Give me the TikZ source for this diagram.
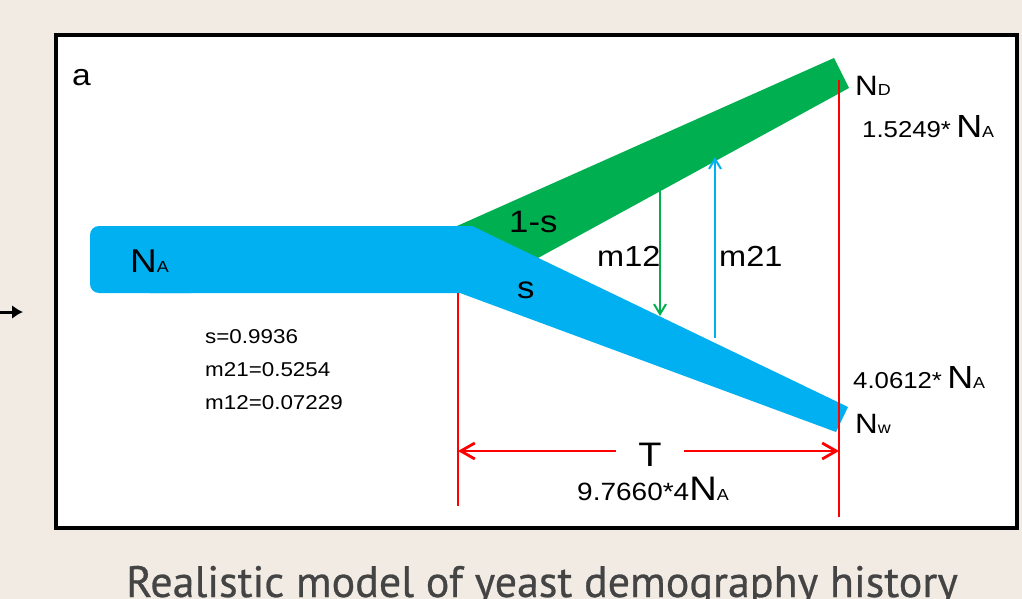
\documentclass[tikz,border=0pt]{standalone}
\usepackage{fontspec}
\setmainfont{Liberation Sans}[FakeStretch=1.12]
\newfontfamily\capfont{PT Sans}[FakeBold=0.6]
\usetikzlibrary{arrows.meta}
\definecolor{popblue}{HTML}{00B0F0}
\definecolor{popgreen}{HTML}{00B050}
\definecolor{bgbeige}{HTML}{F2EBE4}
\definecolor{capgray}{HTML}{444444}
\newcommand{\fs}[1]{\fontsize{#1}{#1}\selectfont}
\newcommand{\Nsub}[1]{N{\fs{16}#1}}

\begin{document}
\begin{tikzpicture}[x=1pt,y=-1pt,>=Stealth]
\tikzstyle{lbl}=[inner sep=0,anchor=base west]
\tikzstyle{redline}=[red,line width=2.8pt]
\tikzstyle{redarr}=[redline,-{Straight Barb[length=14pt,width=16pt]}]
\tikzstyle{migr}=[line width=2pt,-{Straight Barb[length=10pt,width=12pt]}]
\fill[bgbeige] (0,0) rectangle (1022,599);
\useasboundingbox (0,0) rectangle (1022,599);
\draw[line width=3.5pt,fill=white] (56,35) rectangle (1017,528);
% the left arrow outside the box
\coordinate (in0) at (0,312); \coordinate (in1) at (23,312);
\draw[line width=3pt,-{Latex[length=11pt,width=14pt]}] (in0) -- (in1);
% populations
\fill[popgreen] (457,226) -- (834,58) -- (849,88) -- (538,258) -- cycle;
\fill[popblue,rounded corners=9pt] (90,226) rectangle (200,293);
\fill[popblue] (150,226) -- (472,226) -- (848,407) -- (836,432) -- (460,293) -- (150,293) -- cycle;
% split time
\coordinate (t0) at (458,293); \coordinate (t0b) at (458,506);
\coordinate (t1) at (839,80); \coordinate (t1b) at (839,517);
\draw[redline] (t0) -- (t0b);
\draw[redline] (t1) -- (t1b);
\node[inner sep=0,minimum width=68pt,minimum height=24pt,font=\fs{34}] (T) at (650,455) {T};
\coordinate (tl) at (458,451); \coordinate (tr) at (839,451);
\draw[redarr] (tl -| T.west) -- (tl);
\draw[redarr] (tr -| T.east) -- (tr);
% migration
\coordinate (m12a) at (660,190); \coordinate (m12b) at (660,316);
\coordinate (m21a) at (715,338); \coordinate (m21b) at (715,157);
\draw[migr,popgreen] (m12a) -- (m12b);
\draw[migr,popblue] (m21a) -- (m21b);
% labels
\node[lbl,font=\fs{30}] (a) at (72,86) {a};
\node[lbl,font=\fs{33}] (NA) at (130,272) {\Nsub{A}};
\node[lbl,font=\fs{31}] (fs) at (509,232) {1-s};
\node[lbl,font=\fs{31}] (s) at (517,298) {s};
\node[lbl,font=\fs{29}] (m12) at (597,266) {m12};
\node[lbl,font=\fs{29}] (m21) at (719,266) {m21};
\node[lbl,font=\fs{28}] (ND) at (855,96) {\Nsub{D}};
\node[lbl,font=\fs{32}] (sD) at (862,138) {{\fs{23}1.5249*}\,\Nsub{A}};
\node[lbl,font=\fs{32}] (sW) at (853,388) {{\fs{23}4.0612*}\,\Nsub{A}};
\node[lbl,font=\fs{28}] (NW) at (855,433) {N{\fs{16}w}};
\node[lbl,font=\fs{34}] (sT) at (577,500) {{\fs{25}9.7660*4}\Nsub{A}};
\node[lbl,font=\fs{20}] (ps) at (205,343) {s=0.9936};
\node[lbl,font=\fs{20}] (p21) at (205,376) {m21=0.5254};
\node[lbl,font=\fs{20}] (p12) at (205,409) {m12=0.07229};
\node[inner sep=0,anchor=base,font=\capfont\fs{44},text=capgray] (cap) at (542,597) {Realistic model of yeast demography history};
\end{tikzpicture}
\end{document}
